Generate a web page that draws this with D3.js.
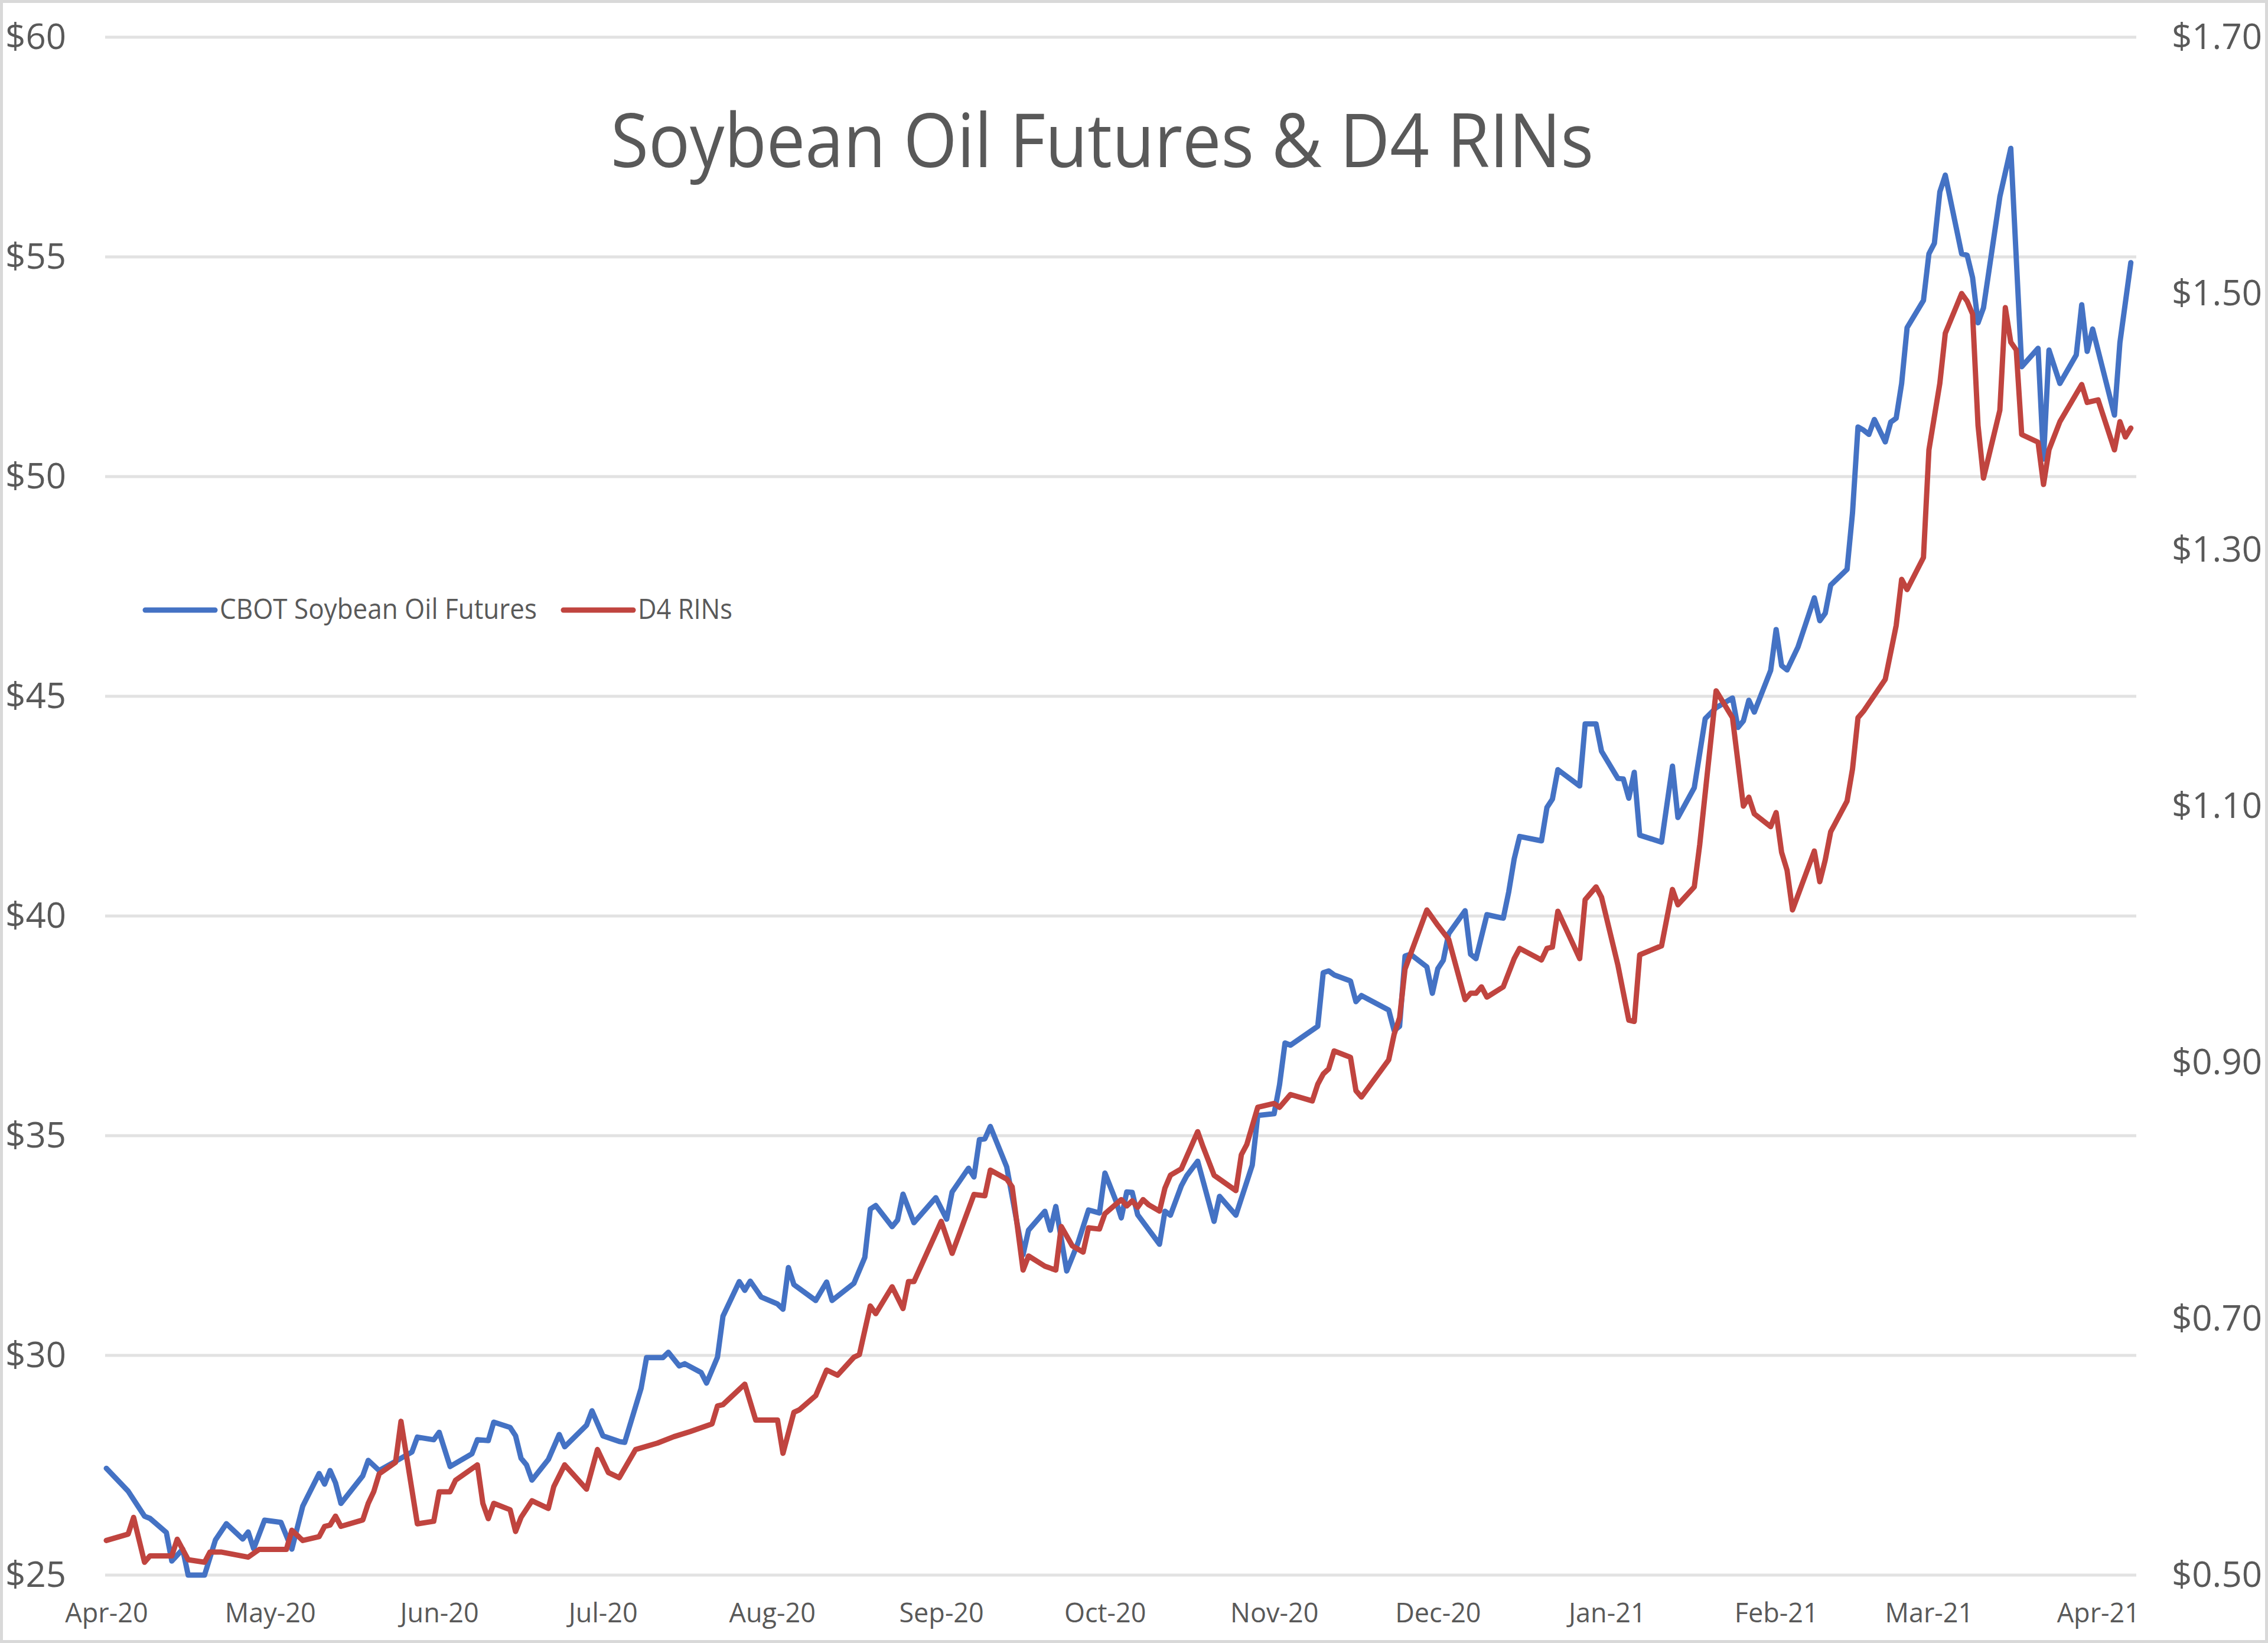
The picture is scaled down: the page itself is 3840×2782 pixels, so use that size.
<!DOCTYPE html>
<html>
<head>
<meta charset="utf-8">
<script src="https://cdn.jsdelivr.net/npm/d3@7/dist/d3.min.js"></script>
<style>
  html, body { margin: 0; padding: 0; background: #fff; }
  svg { display: block; }
</style>
</head>
<body>
<div id="chart"></div>
<script>
// values
const title = "Soybean Oil Futures & D4 RINs";
const seriesNames = ["CBOT Soybean Oil Futures", "D4 RINs"];
const leftTicks = [25, 30, 35, 40, 45, 50, 55, 60];
const rightTicks = [0.5, 0.7, 0.9, 1.1, 1.3, 1.5, 1.7];

// CBOT soybean oil futures (left axis)
const soybeanOil = [
  ["2020-04-01", 27.43], ["2020-04-05", 26.91], ["2020-04-08", 26.34], ["2020-04-09", 26.29],
  ["2020-04-12", 25.97], ["2020-04-13", 25.32], ["2020-04-15", 25.59], ["2020-04-16", 25.0],
  ["2020-04-19", 25.0], ["2020-04-21", 25.8], ["2020-04-23", 26.17], ["2020-04-26", 25.82],
  ["2020-04-27", 25.98], ["2020-04-28", 25.6], ["2020-04-30", 26.25], ["2020-05-03", 26.2],
  ["2020-05-05", 25.59], ["2020-05-07", 26.57], ["2020-05-10", 27.31], ["2020-05-11", 27.07],
  ["2020-05-12", 27.38], ["2020-05-13", 27.1], ["2020-05-14", 26.63], ["2020-05-18", 27.26],
  ["2020-05-19", 27.61], ["2020-05-21", 27.38], ["2020-05-24", 27.59], ["2020-05-27", 27.8],
  ["2020-05-28", 28.14], ["2020-05-31", 28.08], ["2020-06-01", 28.25], ["2020-06-03", 27.47],
  ["2020-06-07", 27.76], ["2020-06-08", 28.08], ["2020-06-10", 28.06], ["2020-06-11", 28.48],
  ["2020-06-14", 28.36], ["2020-06-15", 28.17], ["2020-06-16", 27.66], ["2020-06-17", 27.51],
  ["2020-06-18", 27.16], ["2020-06-21", 27.63], ["2020-06-23", 28.2], ["2020-06-24", 27.92],
  ["2020-06-28", 28.41], ["2020-06-29", 28.74], ["2020-07-01", 28.17], ["2020-07-04", 28.04],
  ["2020-07-05", 28.02], ["2020-07-08", 29.25], ["2020-07-09", 29.95], ["2020-07-12", 29.95],
  ["2020-07-13", 30.07], ["2020-07-15", 29.76], ["2020-07-16", 29.81], ["2020-07-19", 29.61],
  ["2020-07-20", 29.37], ["2020-07-22", 29.96], ["2020-07-23", 30.89], ["2020-07-26", 31.68],
  ["2020-07-27", 31.48], ["2020-07-28", 31.69], ["2020-07-30", 31.33], ["2020-08-02", 31.17],
  ["2020-08-03", 31.05], ["2020-08-04", 32.0], ["2020-08-05", 31.61], ["2020-08-09", 31.25],
  ["2020-08-11", 31.67], ["2020-08-12", 31.25], ["2020-08-16", 31.64], ["2020-08-18", 32.23],
  ["2020-08-19", 33.33], ["2020-08-20", 33.41], ["2020-08-23", 32.93], ["2020-08-24", 33.08],
  ["2020-08-25", 33.67], ["2020-08-27", 33.02], ["2020-08-31", 33.59], ["2020-09-02", 33.1],
  ["2020-09-03", 33.72], ["2020-09-06", 34.26], ["2020-09-07", 34.06], ["2020-09-08", 34.91],
  ["2020-09-09", 34.93], ["2020-09-10", 35.21], ["2020-09-13", 34.29], ["2020-09-15", 32.94],
  ["2020-09-16", 32.29], ["2020-09-17", 32.85], ["2020-09-20", 33.28], ["2020-09-21", 32.85],
  ["2020-09-22", 33.39], ["2020-09-24", 31.92], ["2020-09-26", 32.54], ["2020-09-28", 33.31],
  ["2020-09-30", 33.24], ["2020-10-01", 34.15], ["2020-10-03", 33.52], ["2020-10-04", 33.13],
  ["2020-10-05", 33.72], ["2020-10-06", 33.71], ["2020-10-07", 33.2], ["2020-10-11", 32.53],
  ["2020-10-12", 33.28], ["2020-10-13", 33.19], ["2020-10-15", 33.86], ["2020-10-16", 34.09],
  ["2020-10-18", 34.42], ["2020-10-21", 33.05], ["2020-10-22", 33.62], ["2020-10-25", 33.19],
  ["2020-10-28", 34.33], ["2020-10-29", 35.46], ["2020-11-01", 35.5], ["2020-11-02", 36.16],
  ["2020-11-03", 37.11], ["2020-11-04", 37.06], ["2020-11-09", 37.49], ["2020-11-10", 38.71],
  ["2020-11-11", 38.75], ["2020-11-12", 38.66], ["2020-11-15", 38.52], ["2020-11-16", 38.05],
  ["2020-11-17", 38.19], ["2020-11-22", 37.86], ["2020-11-23", 37.39], ["2020-11-24", 37.49],
  ["2020-11-25", 39.09], ["2020-11-26", 39.13], ["2020-11-29", 38.84], ["2020-11-30", 38.24],
  ["2020-12-01", 38.8], ["2020-12-02", 38.99], ["2020-12-03", 39.6], ["2020-12-06", 40.12],
  ["2020-12-07", 39.13], ["2020-12-08", 39.03], ["2020-12-10", 40.03], ["2020-12-13", 39.95],
  ["2020-12-14", 40.55], ["2020-12-15", 41.3], ["2020-12-16", 41.81], ["2020-12-20", 41.71],
  ["2020-12-21", 42.47], ["2020-12-22", 42.66], ["2020-12-23", 43.33], ["2020-12-27", 42.96],
  ["2020-12-28", 44.37], ["2020-12-30", 44.37], ["2020-12-31", 43.75], ["2021-01-03", 43.13],
  ["2021-01-04", 43.12], ["2021-01-05", 42.68], ["2021-01-06", 43.27], ["2021-01-07", 41.84],
  ["2021-01-11", 41.68], ["2021-01-13", 43.41], ["2021-01-14", 42.24], ["2021-01-17", 42.92],
  ["2021-01-19", 44.49], ["2021-01-21", 44.74], ["2021-01-24", 44.96], ["2021-01-25", 44.29],
  ["2021-01-26", 44.44], ["2021-01-27", 44.91], ["2021-01-28", 44.64], ["2021-01-31", 45.59],
  ["2021-02-01", 46.52], ["2021-02-02", 45.7], ["2021-02-03", 45.6], ["2021-02-05", 46.12],
  ["2021-02-08", 47.24], ["2021-02-09", 46.72], ["2021-02-10", 46.89], ["2021-02-11", 47.53],
  ["2021-02-14", 47.89], ["2021-02-15", 49.18], ["2021-02-16", 51.13], ["2021-02-17", 51.06],
  ["2021-02-18", 50.96], ["2021-02-19", 51.3], ["2021-02-21", 50.79], ["2021-02-22", 51.24],
  ["2021-02-23", 51.33], ["2021-02-24", 52.12], ["2021-02-25", 53.39], ["2021-02-28", 54.01],
  ["2021-03-01", 55.07], ["2021-03-02", 55.31], ["2021-03-03", 56.48], ["2021-03-04", 56.86],
  ["2021-03-07", 55.07], ["2021-03-08", 55.04], ["2021-03-09", 54.53], ["2021-03-10", 53.5],
  ["2021-03-11", 53.84], ["2021-03-14", 56.37], ["2021-03-16", 57.47], ["2021-03-18", 52.5],
  ["2021-03-21", 52.92], ["2021-03-22", 50.4], ["2021-03-23", 52.88], ["2021-03-25", 52.12],
  ["2021-03-28", 52.77], ["2021-03-29", 53.91], ["2021-03-30", 52.85], ["2021-03-31", 53.36],
  ["2021-04-04", 51.4], ["2021-04-05", 53.05], ["2021-04-07", 54.87]
];

// D4 RIN prices (right axis)
const d4Rins = [
  ["2020-04-01", 0.527], ["2020-04-05", 0.532], ["2020-04-06", 0.545], ["2020-04-08", 0.51],
  ["2020-04-09", 0.515], ["2020-04-13", 0.515], ["2020-04-14", 0.528], ["2020-04-16", 0.512],
  ["2020-04-19", 0.51], ["2020-04-20", 0.518], ["2020-04-22", 0.518], ["2020-04-27", 0.514],
  ["2020-04-29", 0.52], ["2020-05-04", 0.52], ["2020-05-05", 0.535], ["2020-05-07", 0.527],
  ["2020-05-10", 0.53], ["2020-05-11", 0.538], ["2020-05-12", 0.539], ["2020-05-13", 0.546],
  ["2020-05-14", 0.538], ["2020-05-18", 0.543], ["2020-05-19", 0.556], ["2020-05-20", 0.565],
  ["2020-05-21", 0.579], ["2020-05-24", 0.588], ["2020-05-25", 0.62], ["2020-05-28", 0.54],
  ["2020-05-31", 0.542], ["2020-06-01", 0.565], ["2020-06-03", 0.565], ["2020-06-04", 0.574],
  ["2020-06-08", 0.586], ["2020-06-09", 0.556], ["2020-06-10", 0.544], ["2020-06-11", 0.556],
  ["2020-06-14", 0.551], ["2020-06-15", 0.534], ["2020-06-16", 0.545], ["2020-06-18", 0.558],
  ["2020-06-21", 0.552], ["2020-06-22", 0.569], ["2020-06-24", 0.586], ["2020-06-28", 0.567],
  ["2020-06-30", 0.598], ["2020-07-01", 0.589], ["2020-07-02", 0.58], ["2020-07-04", 0.576],
  ["2020-07-07", 0.598], ["2020-07-11", 0.603], ["2020-07-14", 0.608], ["2020-07-17", 0.612],
  ["2020-07-21", 0.618], ["2020-07-22", 0.632], ["2020-07-23", 0.633], ["2020-07-27", 0.649],
  ["2020-07-29", 0.621], ["2020-08-02", 0.621], ["2020-08-03", 0.595], ["2020-08-05", 0.627],
  ["2020-08-06", 0.629], ["2020-08-09", 0.64], ["2020-08-11", 0.66], ["2020-08-13", 0.656],
  ["2020-08-16", 0.67], ["2020-08-17", 0.672], ["2020-08-19", 0.71], ["2020-08-20", 0.704],
  ["2020-08-23", 0.725], ["2020-08-25", 0.708], ["2020-08-26", 0.729], ["2020-08-27", 0.729],
  ["2020-09-01", 0.776], ["2020-09-03", 0.751], ["2020-09-07", 0.797], ["2020-09-09", 0.796],
  ["2020-09-10", 0.816], ["2020-09-13", 0.809], ["2020-09-14", 0.803], ["2020-09-16", 0.738],
  ["2020-09-17", 0.749], ["2020-09-20", 0.741], ["2020-09-22", 0.738], ["2020-09-23", 0.772],
  ["2020-09-25", 0.757], ["2020-09-27", 0.752], ["2020-09-28", 0.771], ["2020-09-30", 0.77],
  ["2020-10-01", 0.782], ["2020-10-04", 0.793], ["2020-10-05", 0.788], ["2020-10-06", 0.792],
  ["2020-10-07", 0.787], ["2020-10-08", 0.793], ["2020-10-09", 0.789], ["2020-10-11", 0.784],
  ["2020-10-12", 0.802], ["2020-10-13", 0.812], ["2020-10-15", 0.817], ["2020-10-18", 0.846],
  ["2020-10-19", 0.834], ["2020-10-21", 0.812], ["2020-10-25", 0.8], ["2020-10-26", 0.828],
  ["2020-10-27", 0.836], ["2020-10-29", 0.865], ["2020-11-01", 0.868], ["2020-11-02", 0.865],
  ["2020-11-04", 0.875], ["2020-11-08", 0.87], ["2020-11-09", 0.883], ["2020-11-10", 0.891],
  ["2020-11-11", 0.895], ["2020-11-12", 0.909], ["2020-11-15", 0.904], ["2020-11-16", 0.878],
  ["2020-11-17", 0.873], ["2020-11-22", 0.902], ["2020-11-23", 0.922], ["2020-11-24", 0.935],
  ["2020-11-25", 0.973], ["2020-11-27", 0.996], ["2020-11-29", 1.019], ["2020-12-01", 1.007],
  ["2020-12-03", 0.996], ["2020-12-06", 0.949], ["2020-12-07", 0.954], ["2020-12-08", 0.954],
  ["2020-12-09", 0.959], ["2020-12-10", 0.951], ["2020-12-13", 0.959], ["2020-12-15", 0.981],
  ["2020-12-16", 0.989], ["2020-12-20", 0.98], ["2020-12-21", 0.989], ["2020-12-22", 0.99],
  ["2020-12-23", 1.018], ["2020-12-27", 0.981], ["2020-12-28", 1.027], ["2020-12-30", 1.037],
  ["2020-12-31", 1.029], ["2021-01-03", 0.976], ["2021-01-05", 0.933], ["2021-01-06", 0.932],
  ["2021-01-07", 0.984], ["2021-01-11", 0.991], ["2021-01-13", 1.035], ["2021-01-14", 1.023],
  ["2021-01-17", 1.037], ["2021-01-18", 1.07], ["2021-01-21", 1.19], ["2021-01-24", 1.169],
  ["2021-01-26", 1.1], ["2021-01-27", 1.107], ["2021-01-28", 1.094], ["2021-01-31", 1.084],
  ["2021-02-01", 1.095], ["2021-02-02", 1.064], ["2021-02-03", 1.05], ["2021-02-04", 1.019],
  ["2021-02-08", 1.065], ["2021-02-09", 1.041], ["2021-02-10", 1.058], ["2021-02-11", 1.08],
  ["2021-02-14", 1.104], ["2021-02-15", 1.129], ["2021-02-16", 1.169], ["2021-02-17", 1.174],
  ["2021-02-21", 1.199], ["2021-02-23", 1.241], ["2021-02-24", 1.277], ["2021-02-25", 1.269],
  ["2021-02-28", 1.294], ["2021-03-01", 1.378], ["2021-03-03", 1.43], ["2021-03-04", 1.469],
  ["2021-03-07", 1.5], ["2021-03-08", 1.494], ["2021-03-09", 1.484], ["2021-03-10", 1.397],
  ["2021-03-11", 1.356], ["2021-03-14", 1.409], ["2021-03-15", 1.489], ["2021-03-16", 1.462],
  ["2021-03-17", 1.456], ["2021-03-18", 1.39], ["2021-03-21", 1.384], ["2021-03-22", 1.351],
  ["2021-03-23", 1.378], ["2021-03-25", 1.4], ["2021-03-29", 1.429], ["2021-03-30", 1.415],
  ["2021-04-01", 1.417], ["2021-04-04", 1.378], ["2021-04-05", 1.4], ["2021-04-06", 1.388],
  ["2021-04-07", 1.395]
];

const width = 3840;
const height = 2782;
const margin = { top: 63, right: 223, bottom: 115, left: 180 };
const textColor = "#595959";
const gridColor = "#e2e2e2";
const blue = "#4472C4";
const red = "#C0443F";
const font = "'Open Sans', 'DejaVu Sans', sans-serif";

const parseDate = d3.timeParse("%Y-%m-%d");
const soy = soybeanOil.map(([d, v]) => ({ date: parseDate(d), value: v }));
const rin = d4Rins.map(([d, v]) => ({ date: parseDate(d), value: v }));

const x = d3
  .scaleTime()
  .domain([parseDate("2020-04-01"), parseDate("2021-04-08")])
  .range([margin.left, width - margin.right]);

const yLeft = d3
  .scaleLinear()
  .domain([25, 60])
  .range([height - margin.bottom, margin.top]);

const yRight = d3
  .scaleLinear()
  .domain([0.5, 1.7])
  .range([height - margin.bottom, margin.top]);

const svg = d3
  .select("#chart")
  .append("svg")
  .attr("width", width)
  .attr("height", height)
  .attr("viewBox", [0, 0, width, height]);

svg
  .append("rect")
  .attr("x", 2.5)
  .attr("y", 2.5)
  .attr("width", width - 5)
  .attr("height", height - 5)
  .attr("fill", "#fff")
  .attr("stroke", "#d9d9d9")
  .attr("stroke-width", 5);

// horizontal gridlines from the left axis
svg
  .append("g")
  .attr("stroke", gridColor)
  .attr("stroke-width", 5)
  .selectAll("line")
  .data(leftTicks)
  .join("line")
  .attr("x1", margin.left - 2)
  .attr("x2", width - margin.right)
  .attr("y1", (d) => yLeft(d))
  .attr("y2", (d) => yLeft(d));

// left axis
const leftAxis = svg
  .append("g")
  .attr("transform", `translate(${margin.left},0)`)
  .call(
    d3
      .axisLeft(yLeft)
      .tickValues(leftTicks)
      .tickSize(0)
      .tickPadding(68)
      .tickFormat((d) => "$" + d)
  );

// right axis
const rightAxis = svg
  .append("g")
  .attr("transform", `translate(${width - margin.right},0)`)
  .call(
    d3
      .axisRight(yRight)
      .tickValues(rightTicks)
      .tickSize(0)
      .tickPadding(60)
      .tickFormat(d3.format("$.2f"))
  );

// bottom axis
const bottomAxis = svg
  .append("g")
  .attr("transform", `translate(0,${height - margin.bottom})`)
  .call(
    d3
      .axisBottom(x)
      .ticks(d3.timeMonth.every(1))
      .tickSize(0)
      .tickPadding(48)
      .tickFormat(d3.timeFormat("%b-%y"))
  );

[leftAxis, rightAxis].forEach((g) => {
  g.select(".domain").remove();
  g.selectAll("text")
    .attr("font-family", font)
    .attr("font-size", 60)
    .attr("fill", textColor);
});
bottomAxis.select(".domain").remove();
bottomAxis
  .selectAll("text")
  .attr("font-family", font)
  .attr("font-size", 45)
  .attr("fill", textColor);

// series lines
const soyLine = d3
  .line()
  .x((d) => x(d.date))
  .y((d) => yLeft(d.value));

const rinLine = d3
  .line()
  .x((d) => x(d.date))
  .y((d) => yRight(d.value));

svg
  .append("path")
  .datum(soy)
  .attr("fill", "none")
  .attr("stroke", blue)
  .attr("stroke-width", 9)
  .attr("stroke-linejoin", "round")
  .attr("stroke-linecap", "round")
  .attr("d", soyLine);

svg
  .append("path")
  .datum(rin)
  .attr("fill", "none")
  .attr("stroke", red)
  .attr("stroke-width", 9)
  .attr("stroke-linejoin", "round")
  .attr("stroke-linecap", "round")
  .attr("d", rinLine);

// title
svg
  .append("text")
  .attr("x", 1866)
  .attr("y", 283)
  .attr("text-anchor", "middle")
  .attr("font-family", font)
  .attr("font-size", 126)
  .attr("fill", textColor)
  .attr("textLength", 1664)
  .attr("lengthAdjust", "spacingAndGlyphs")
  .text(title);

// legend
const legendItems = [
  { name: seriesNames[0], color: blue, x: 246, textWidth: 537 },
  { name: seriesNames[1], color: red, x: 954, textWidth: 160 },
];

const legend = svg
  .append("g")
  .selectAll("g")
  .data(legendItems)
  .join("g")
  .attr("transform", (d) => `translate(${d.x},1033)`);

legend
  .append("line")
  .attr("x1", 0)
  .attr("x2", 118)
  .attr("stroke", (d) => d.color)
  .attr("stroke-width", 9)
  .attr("stroke-linecap", "round");

legend
  .append("text")
  .attr("x", 126)
  .attr("y", 15)
  .attr("font-family", font)
  .attr("font-size", 47)
  .attr("fill", textColor)
  .attr("textLength", (d) => d.textWidth)
  .attr("lengthAdjust", "spacingAndGlyphs")
  .text((d) => d.name);
</script>
</body>
</html>
